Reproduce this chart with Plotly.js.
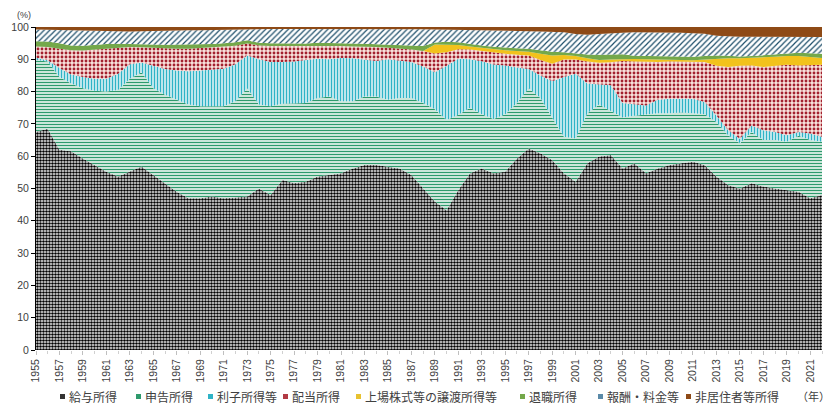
<!DOCTYPE html>
<html><head><meta charset="utf-8">
<script src="https://cdn.plot.ly/plotly-3.0.1.min.js"></script>
<style>html,body{margin:0;padding:0;background:#fff;}#chart{width:835px;height:413px;}</style>
</head><body><div id="chart"></div>
<script>
const years = [];
for (let y = 1955; y <= 2022; y++) years.push(y);

const kyuyo = [67.6,68.5,62.0,61.5,59.3,57.3,55.2,53.7,55.2,56.8,54.2,51.6,49.0,47.0,47.0,47.5,47.0,47.2,47.5,50.0,
  48.0,52.6,51.7,52.1,53.7,54.2,54.7,56.2,57.3,57.3,56.8,56.2,54.2,50.0,46.0,43.3,49.5,54.7,56.2,54.7,
  55.2,59.3,62.4,60.9,58.8,54.7,52.1,57.8,59.9,60.4,56.2,57.8,54.7,56.2,57.3,57.8,58.3,57.3,53.7,51.1,
  50.0,51.6,50.6,50.0,49.5,49.0,47.0,48.0];
const shinkoku = [22.2,20.8,22.5,21.0,21.7,23.0,24.8,26.8,28.8,29.2,26.8,27.4,28.5,29.0,28.5,28.0,28.5,29.8,33.5,26.0,
  27.5,23.6,24.6,24.4,24.3,24.3,22.3,20.8,21.2,21.2,20.7,21.8,23.8,26.5,28.5,27.9,23.3,20.3,16.8,16.8,
  17.8,17.2,18.6,17.1,13.2,11.3,13.4,15.5,16.1,13.6,15.8,14.7,18.1,17.1,16.0,15.7,15.0,15.7,16.9,15.4,
  14.0,15.9,14.4,15.0,15.0,17.3,18.0,16.5];
const rishi = [0.7,0.4,2.8,2.8,3.5,3.7,4.0,5.0,4.5,3.0,7.0,8.0,9.0,10.3,11.0,11.3,11.6,11.5,10.2,14.0,
  13.7,13.0,13.0,13.3,12.2,11.5,13.4,13.3,11.5,11.0,12.5,11.6,11.2,11.3,11.5,16.8,17.4,15.0,16.4,16.9,
  15.1,11.0,6.0,7.0,11.2,18.5,20.0,9.2,6.3,8.0,4.5,3.5,2.9,4.2,4.5,4.3,4.5,3.8,2.0,1.5,
  1.4,2.0,3.0,2.5,2.0,1.2,2.0,1.5];
const haito = [3.5,4.1,6.0,7.5,8.2,9.0,9.3,8.0,5.3,4.7,5.5,6.4,6.8,7.0,7.0,6.8,6.7,5.7,3.7,4.3,
  4.9,4.9,4.8,4.4,4.1,4.2,3.7,3.7,4.0,4.3,3.6,3.8,3.8,4.8,5.8,4.2,2.9,3.0,3.1,3.7,
  3.6,3.9,4.2,4.8,5.4,5.4,4.4,6.8,6.6,7.1,13.0,13.3,13.5,11.7,11.5,11.5,11.5,12.4,15.4,19.6,
  22.6,18.6,19.6,20.4,21.8,20.6,21.2,22.3];
const joujou = [0,0,0,0,0,0,0,0,0,0,0,0,0,0,0,0,0,0,0,0,
  0,0,0,0,0,0,0,0,0,0,0,0,0,0,2.8,2.3,1.3,1.0,1.0,1.1,
  1.1,1.1,1.1,1.9,2.6,1.4,1.1,1.0,0.9,0.8,0.6,0.8,0.8,0.8,0.6,0.5,0.4,0.7,2.2,2.7,
  2.3,2.3,3.0,2.9,2.7,2.9,2.5,2.1];
const taishoku = [1.6,1.7,1.7,1.5,1.5,1.5,1.4,1.3,1.0,1.0,1.1,1.1,1.2,1.2,1.1,1.1,1.2,1.1,1.0,0.8,
  0.9,0.8,0.7,0.7,0.8,0.9,0.9,0.9,0.8,0.9,0.9,1.0,1.3,1.5,0.6,0.9,0.9,0.7,0.8,0.7,
  0.8,0.9,1.0,1.1,1.1,0.9,0.8,1.2,1.6,1.6,1.5,1.0,1.0,0.9,0.9,1.0,1.1,1.1,1.0,0.8,
  0.6,0.6,0.6,0.6,0.7,1.0,1.2,1.3];
const houshu = [3.6,3.6,4.0,4.6,4.6,4.2,3.9,3.8,3.8,4.0,4.2,4.5,4.5,4.5,4.4,4.4,4.2,4.0,3.5,4.3,
  4.4,4.5,4.6,4.5,4.4,4.4,4.5,4.6,4.7,4.8,4.9,5.0,5.0,5.2,4.0,3.8,3.8,4.3,4.7,5.0,
  5.3,5.4,5.4,5.8,6.2,6.2,6.0,6.1,6.4,6.4,6.6,7.3,7.4,7.4,7.4,7.4,7.3,6.9,6.1,6.0,
  6.1,6.0,5.8,5.6,5.3,5.0,5.0,5.2];
const hikyoju = [0.8,0.9,1.0,1.1,1.2,1.3,1.4,1.4,1.4,1.3,1.2,1.0,1.0,1.0,1.0,0.9,0.8,0.7,0.6,0.6,
  0.6,0.6,0.6,0.6,0.5,0.5,0.5,0.5,0.5,0.5,0.6,0.6,0.7,0.7,0.8,0.8,0.9,1.0,1.0,1.1,
  1.1,1.2,1.3,1.4,1.5,1.6,2.2,2.4,2.2,2.1,1.8,1.6,1.6,1.7,1.8,1.8,1.9,2.1,2.7,2.9,
  3.0,3.0,3.0,3.0,3.0,3.0,3.1,3.1];

const seriesNames = ['給与所得','申告所得','利子所得等','配当所得','上場株式等の譲渡所得等','退職所得','報酬・料金等','非居住者等所得'];
const seriesData = [kyuyo, shinkoku, rishi, haito, joujou, taishoku, houshu, hikyoju];
const tickYears = [];
for (let y = 1955; y <= 2021; y += 2) tickYears.push(y);

const styles = [
  {fillcolor:'#ffffff', fillpattern:{shape:'.', fgcolor:'#000000', bgcolor:'#ffffff', size:3, solidity:0.6}},
  {fillcolor:'#ffffff', fillpattern:{shape:'-', fgcolor:'#2e9a6c', bgcolor:'#ffffff', size:3, solidity:0.5}},
  {fillcolor:'#ffffff', fillpattern:{shape:'|', fgcolor:'#2fb3c6', bgcolor:'#ffffff', size:3, solidity:0.55}},
  {fillcolor:'#f6dcd6', fillpattern:{shape:'.', fgcolor:'#a3202e', bgcolor:'#f8e2dc', size:4, solidity:0.4}},
  {fillcolor:'#f2c21c'},
  {fillcolor:'#74a84a'},
  {fillcolor:'#ffffff', fillpattern:{shape:'/', fgcolor:'#1e4f6a', bgcolor:'#ffffff', size:4, solidity:0.3}},
  {fillcolor:'#8e4a16'}
];
const swatchColors = ['#333333','#2e9a6c','#2fb3c6','#b23a44','#e8c230','#74a84a','#5a8aa8','#8e4a16'];
// legend item left pixel positions (marker), in page pixels
const legendPx = [60, 136, 208, 283, 356, 520, 598, 686];

const traces = seriesData.map((vals, i) => Object.assign({
  x: years, y: vals, name: seriesNames[i], type: 'scatter', mode: 'lines',
  stackgroup: 'one', line: {width: 0, color: styles[i].fillcolor}, hoverinfo: 'skip', showlegend: false
}, styles[i]));

const L = 36, W = 786, T = 27, H = 323;
const px2x = p => (p - L) / W;
const py2y = p => (T + H - p) / H;
const legY = 396;

const annotations = [
  {text: '(%)', xref: 'paper', yref: 'paper', x: px2x(24), y: py2y(15), xanchor: 'center', yanchor: 'middle',
    showarrow: false, font: {family: 'Liberation Sans, sans-serif', size: 9, color: '#404040'}},
  {text: '（年）', xref: 'paper', yref: 'paper', x: px2x(832), y: py2y(legY), xanchor: 'right', yanchor: 'middle',
    showarrow: false, font: {family: 'Noto Sans CJK JP, sans-serif', size: 11, color: '#404040'}}
];
const shapes = [];
seriesNames.forEach((nm, i) => {
  const p = legendPx[i];
  shapes.push({type: 'rect', xref: 'paper', yref: 'paper', x0: px2x(p), x1: px2x(p + 5),
    y0: py2y(legY + 3), y1: py2y(legY - 2), fillcolor: swatchColors[i], line: {width: 0}});
  annotations.push({text: nm, xref: 'paper', yref: 'paper', x: px2x(p + 7), y: py2y(legY), xanchor: 'left', yanchor: 'middle',
    showarrow: false, font: {family: 'Noto Sans CJK JP, sans-serif', size: 12, color: '#404040'}});
});

const layout = {
  width: 835, height: 413,
  margin: {l: L, r: 835 - L - W, t: T, b: 413 - T - H},
  paper_bgcolor: '#ffffff', plot_bgcolor: '#ffffff',
  showlegend: false,
  xaxis: {range: [1955, 2022], tickvals: tickYears, ticktext: tickYears.map(String),
    tickangle: -90, showgrid: false, zeroline: false, showline: false,
    ticks: 'outside', ticklen: 4, tickcolor: '#bfbfbf',
    minor: {dtick: 1, ticks: 'outside', ticklen: 3, tickcolor: '#d0d0d0'},
    tickfont: {family: 'Liberation Sans, sans-serif', size: 10.5, color: '#404040'}},
  yaxis: {range: [0, 100], dtick: 10, showgrid: false, zeroline: false,
    showline: true, linecolor: '#000000', linewidth: 1,
    ticks: 'outside', ticklen: 4, tickcolor: '#000000',
    tickfont: {family: 'Liberation Sans, sans-serif', size: 10.5, color: '#404040'}},
  annotations: annotations,
  shapes: shapes
};

Plotly.newPlot('chart', traces, layout, {displayModeBar: false, staticPlot: true});
</script>
</body></html>
